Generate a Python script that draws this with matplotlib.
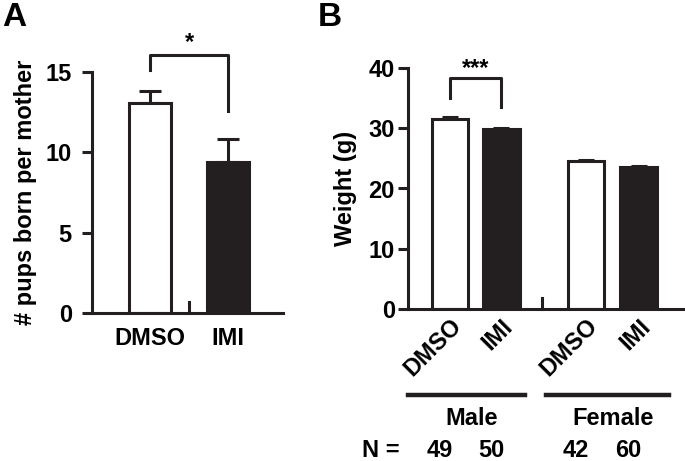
import matplotlib.pyplot as plt
import matplotlib.transforms as mtransforms

plt.rcParams['font.family'] = ['Liberation Sans', 'DejaVu Sans']
plt.rcParams['font.weight'] = 'bold'
plt.rcParams['axes.labelweight'] = 'bold'

# Panel A: pups born per mother
groups_a = ["DMSO", "IMI"]
pups_mean = [13.1, 9.4]
pups_err = [0.7, 1.4]
yticks_a = [0, 5, 10, 15]

# Panel B: body weight by sex
groups_b = ["DMSO", "IMI", "DMSO", "IMI"]
weight_mean = [31.6, 29.9, 24.6, 23.5]
weight_err = [0.3, 0.15, 0.15, 0.2]
yticks_b = [0, 10, 20, 30, 40]
sexes = ["Male", "Female"]
n_counts = ["49", "50", "42", "60"]

FS = 17
LW = 2.2
INK = "#231f20"
W, H = 685, 461

fig = plt.figure(figsize=(W / 100, H / 100), dpi=100)


def px_axes(x0, x1, ytop, ybot):
    return fig.add_axes([x0 / W, 1 - ybot / H, (x1 - x0) / W, (ybot - ytop) / H])


def style(ax, ypad):
    for s in ["top", "right"]:
        ax.spines[s].set_visible(False)
    for s in ["left", "bottom"]:
        ax.spines[s].set_linewidth(LW)
        ax.spines[s].set_color(INK)
    ax.tick_params(axis="y", width=LW, length=7.5, color=INK, pad=ypad)
    ax.tick_params(axis="x", length=0)


# ---- panel A
ax1 = px_axes(92, 283, 72, 313)
xa = [1, 2]
ax1.bar(xa, pups_mean, width=0.54, color=["white", INK], edgecolor=INK,
        linewidth=LW, zorder=2)
ax1.errorbar(xa, pups_mean, yerr=[[0, 0], pups_err], fmt="none", ecolor=INK,
             elinewidth=LW, capsize=8, capthick=LW, zorder=1)
ax1.set_xlim(0.256, 2.705)
ax1.set_ylim(0, 15)
ax1.set_yticks(yticks_a, [str(v) for v in yticks_a], fontsize=FS, fontweight="bold")
ax1.set_xticks(xa, groups_a, fontsize=FS, fontweight="bold")
ax1.plot([1.5, 1.5], [0, 0.7], color=INK, lw=LW, clip_on=False)
ax1.plot([1, 1, 2, 2], [15.1, 16.05, 16.05, 12.6], color=INK, lw=LW, clip_on=False)
ax1.text(1.5, 16.1, "*", ha="center", va="bottom", fontsize=FS, fontweight="bold")
ax1.set_ylabel("# pups born per mother", fontsize=FS, fontweight="bold", labelpad=6)
style(ax1, 7)
ax1.tick_params(axis="x", pad=10)

# ---- panel B
ax2 = px_axes(408, 685, 68, 309)
xb = [1, 2, 3.66, 4.69]
ax2.bar(xb, weight_mean, width=0.72, color=["white", INK, "white", INK],
        edgecolor=INK, linewidth=LW, zorder=2)
ax2.errorbar(xb, weight_mean, yerr=[[0] * 4, weight_err], fmt="none", ecolor=INK,
             elinewidth=LW, capsize=6, capthick=LW, zorder=1)
ax2.set_xlim(0.176, 5.6)
ax2.set_ylim(0, 40)
ax2.set_yticks(yticks_b, [str(v) for v in yticks_b], fontsize=FS, fontweight="bold")
ax2.set_xticks(xb, groups_b, rotation=45, ha="right", va="top", rotation_mode="anchor",
               fontsize=FS, fontweight="bold")
ax2.plot([2.8, 2.8], [0, 1.8], color=INK, lw=LW, clip_on=False)
ax2.plot([1, 1, 2, 2], [35.0, 38.3, 38.3, 33.6], color=INK, lw=LW, clip_on=False)
ax2.text(1.5, 38.0, "***", ha="center", va="bottom", fontsize=FS, fontweight="bold")
ax2.set_ylabel("Weight (g)", fontsize=FS, fontweight="bold", labelpad=8)
style(ax2, 2)
ax2.tick_params(axis="x", pad=4)

tr = mtransforms.blended_transform_factory(ax2.transData, fig.transFigure)
line_y = 1 - 395 / H
for (x0, x1), sex in zip([(0.18, 2.47), (2.88, 5.29)], sexes):
    ax2.plot([x0, x1], [line_y, line_y], color=INK, lw=3.2, transform=tr,
             clip_on=False)
    ax2.text((x0 + x1) / 2 + 0.1, 1 - 418 / H, sex, transform=tr, ha="center",
             va="center", fontsize=FS, fontweight="bold")
n_y = 1 - 450 / H
ax2.text(-0.35, n_y, "N =", transform=tr, ha="center", va="center", fontsize=FS,
         fontweight="bold")
for x, n in zip(xb, n_counts):
    ax2.text(x - 0.2, n_y, n, transform=tr, ha="center", va="center", fontsize=FS,
             fontweight="bold")

fig.text(2 / W, 1 - 2 / H, "A", fontsize=24, fontweight="bold", ha="left", va="top")
fig.text(318 / W, 1 - 2 / H, "B", fontsize=24, fontweight="bold", ha="left", va="top")

fig.savefig("out.png", dpi=100)
